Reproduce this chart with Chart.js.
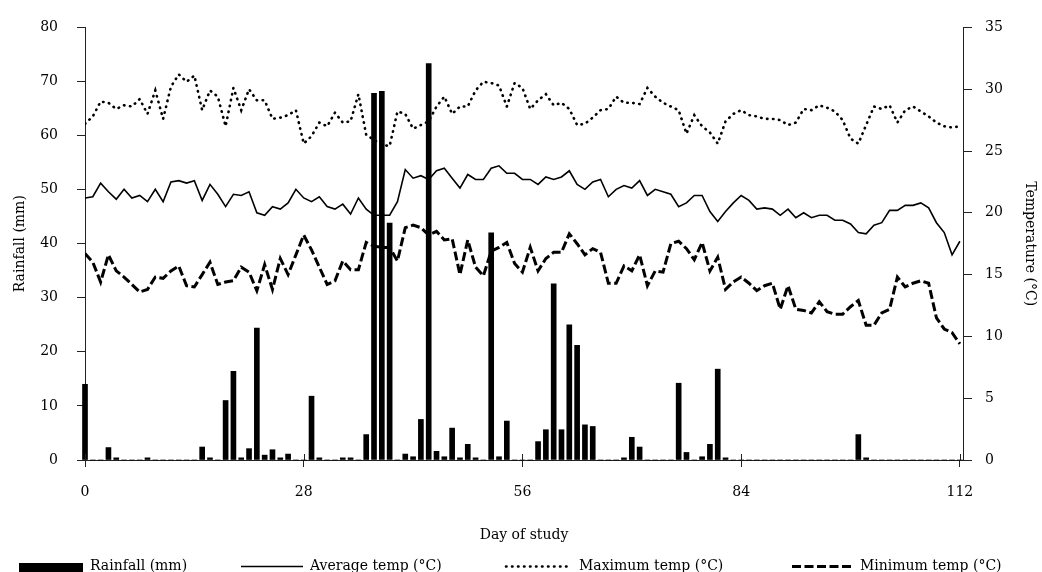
<!DOCTYPE html>
<html>
<head>
<meta charset="utf-8">
<script src="https://cdn.jsdelivr.net/npm/chart.js@4.4.0/dist/chart.umd.min.js"></script>
<style>
html,body{margin:0;padding:0;background:#fff}
</style>
</head>
<body>
<canvas id="myChart" width="1042" height="572"></canvas>
<script>
// data, one value per day of study
const days = Array.from({length: 113}, (_, i) => i)
const xTicks = [0, 28, 56, 84, 112]

const rainfall = [
  14, 0, 0, 2.3, 0.4, 0, 0, 0, 0.4, 0,
  0, 0, 0, 0, 0, 2.4, 0.4, 0, 11, 16.4,
  0.4, 2.1, 24.4, 0.9, 1.9, 0.4, 1.1, 0, 0, 11.8,
  0.4, 0, 0, 0.4, 0.4, 0, 4.7, 67.8, 68.2, 43.8,
  0, 1.1, 0.6, 7.5, 73.3, 1.6, 0.6, 5.9, 0.4, 2.9,
  0.4, 0, 42, 0.6, 7.2, 0, 0, 0, 3.4, 5.6,
  32.6, 5.6, 25, 21.2, 6.5, 6.2, 0, 0, 0, 0.4,
  4.2, 2.4, 0, 0, 0, 0, 14.2, 1.4, 0, 0.6,
  2.9, 16.8, 0.4, 0, 0, 0, 0, 0, 0, 0,
  0, 0, 0, 0, 0, 0, 0, 0, 0, 4.7,
  0.4, 0, 0, 0, 0, 0, 0, 0, 0, 0,
  0, 0, 0
]
const avgTemp = [
  21.2, 21.3, 22.4, 21.7, 21.1, 21.9, 21.2, 21.4, 20.9, 21.9,
  20.9, 22.5, 22.6, 22.4, 22.6, 21.0, 22.3, 21.5, 20.5, 21.5,
  21.4, 21.7, 20.0, 19.8, 20.5, 20.3, 20.8, 21.9, 21.2, 20.9,
  21.3, 20.5, 20.3, 20.7, 19.9, 21.2, 20.3, 19.8, 19.8, 19.8,
  20.9, 23.5, 22.8, 23.0, 22.7, 23.4, 23.6, 22.8, 22.0, 23.1,
  22.7, 22.7, 23.6, 23.8, 23.2, 23.2, 22.7, 22.7, 22.3, 22.9,
  22.7, 22.9, 23.4, 22.3, 21.9, 22.5, 22.7, 21.3, 21.9, 22.2,
  22.0, 22.6, 21.4, 21.9, 21.7, 21.5, 20.5, 20.8, 21.4, 21.4,
  20.1, 19.3, 20.1, 20.8, 21.4, 21.0, 20.3, 20.4, 20.3, 19.8,
  20.3, 19.6, 20.0, 19.6, 19.8, 19.8, 19.4, 19.4, 19.1, 18.4,
  18.3, 19.0, 19.2, 20.2, 20.2, 20.6, 20.6, 20.8, 20.4, 19.2,
  18.4, 16.6, 17.7
]
const maxTemp = [
  27.2, 27.8, 29.0, 28.9, 28.4, 28.7, 28.6, 29.2, 28.0, 29.9,
  27.6, 30.2, 31.2, 30.6, 31.1, 28.3, 29.9, 29.4, 27.0, 30.1,
  28.3, 30.0, 29.1, 29.1, 27.6, 27.7, 27.9, 28.3, 25.6, 26.2,
  27.3, 27.0, 28.1, 27.3, 27.4, 29.6, 26.3, 25.9, 25.5, 25.4,
  28.2, 28.0, 26.8, 27.1, 27.4, 28.6, 29.4, 28.0, 28.6, 28.6,
  29.9, 30.6, 30.5, 30.3, 28.6, 30.5, 30.1, 28.4, 29.1, 29.6,
  28.7, 28.9, 28.4, 27.1, 27.2, 27.7, 28.3, 28.4, 29.4, 28.9,
  28.9, 28.8, 30.1, 29.4, 28.9, 28.6, 28.3, 26.4, 27.9, 27.0,
  26.5, 25.6, 27.4, 28.0, 28.3, 27.9, 27.8, 27.6, 27.6, 27.5,
  27.1, 27.3, 28.4, 28.3, 28.7, 28.5, 28.2, 27.5, 26.0, 25.6,
  27.1, 28.6, 28.4, 28.7, 27.3, 28.3, 28.6, 28.2, 27.8, 27.3,
  27.0, 26.9, 27.0
]
const minTemp = [
  16.7, 16.0, 14.4, 16.6, 15.3, 14.8, 14.2, 13.6, 13.8, 14.8,
  14.7, 15.3, 15.7, 14.1, 14.0, 15.0, 16.0, 14.2, 14.4, 14.5,
  15.6, 15.2, 13.7, 15.8, 13.8, 16.3, 15.0, 16.6, 18.2, 17.0,
  15.6, 14.2, 14.5, 16.1, 15.4, 15.4, 17.6, 17.3, 17.2, 17.2,
  16.1, 18.8, 19.0, 18.8, 18.2, 18.5, 17.8, 17.9, 15.0, 17.8,
  15.6, 14.9, 16.9, 17.2, 17.6, 15.9, 15.2, 17.2, 15.3, 16.3,
  16.8, 16.8, 18.3, 17.5, 16.6, 17.1, 16.8, 14.3, 14.3, 15.7,
  15.3, 16.6, 14.1, 15.3, 15.2, 17.5, 17.7, 17.1, 16.2, 17.6,
  15.3, 16.4, 13.8, 14.4, 14.8, 14.3, 13.7, 14.1, 14.3, 12.2,
  14.1, 12.2, 12.1, 11.9, 12.8, 12.0, 11.8, 11.8, 12.4, 12.9,
  10.9, 10.9, 11.9, 12.2, 14.8, 14.0, 14.3, 14.5, 14.3, 11.5,
  10.6, 10.3, 9.4
]

const pts = arr => arr.map((v, i) => ({x: days[i], y: v}))

Chart.defaults.font.family = '"DejaVu Serif", serif'
Chart.defaults.font.size = 14
Chart.defaults.color = '#000'

// legend drawn by hand so the items can spread across the bottom
const bottomLegend = {
  id: 'bottomLegend',
  afterDraw(chart) {
    const ctx = chart.ctx
    const starts = [19, 241, 506, 792]
    const widths = [64, 62, 66, 61]
    const lineY = 566.5
    ctx.save()
    ctx.font = '14px "DejaVu Serif"'
    ctx.fillStyle = '#000'
    ctx.strokeStyle = '#000'
    chart.data.datasets.forEach((ds, i) => {
      const x = starts[i], w = widths[i]
      if (ds.type === 'bar') {
        ctx.fillRect(x, 563, w, 13)
      } else {
        ctx.beginPath()
        ctx.lineWidth = ds.borderWidth
        ctx.lineCap = ds.borderCapStyle || 'butt'
        ctx.setLineDash(ds.borderDash || [])
        ctx.moveTo(x, lineY)
        ctx.lineTo(x + w, lineY)
        ctx.stroke()
        ctx.setLineDash([])
      }
      ctx.textBaseline = 'alphabetic'
      ctx.fillText(ds.label, x + w + 7, 570)
    })
    ctx.restore()
  }
}

// x ticks cross the axis line
const crossTicks = {
  id: 'crossTicks',
  afterDatasetsDraw(chart) {
    const {ctx, scales: {x}, chartArea} = chart
    ctx.save()
    ctx.strokeStyle = '#222'
    ctx.lineWidth = 1
    x.ticks.forEach(t => {
      const px = Math.round(x.getPixelForValue(t.value)) + 0.5
      ctx.beginPath()
      ctx.moveTo(px, chartArea.bottom - 6)
      ctx.lineTo(px, chartArea.bottom)
      ctx.stroke()
    })
    ctx.restore()
  }
}

const ctx = document.getElementById('myChart').getContext('2d')

const config = {
  type: 'bar',
  data: {
    datasets: [
      {
        type: 'bar',
        label: 'Rainfall (mm)',
        data: pts(rainfall),
        backgroundColor: '#000',
        barThickness: 5,
        yAxisID: 'y',
        clip: false,
        order: 0
      },
      {
        type: 'line',
        label: 'Average temp (°C)',
        data: pts(avgTemp),
        borderColor: '#000',
        borderWidth: 1.6,
        pointRadius: 0,
        tension: 0,
        yAxisID: 'y1',
        order: 1
      },
      {
        type: 'line',
        label: 'Maximum temp (°C)',
        data: pts(maxTemp),
        borderColor: '#000',
        borderWidth: 2.6,
        borderDash: [0.5, 5.5],
        borderCapStyle: 'round',
        pointRadius: 0,
        tension: 0,
        yAxisID: 'y1',
        order: 1
      },
      {
        type: 'line',
        label: 'Minimum temp (°C)',
        data: pts(minTemp),
        borderColor: '#000',
        borderWidth: 3,
        borderDash: [9, 3.5],
        pointRadius: 0,
        tension: 0,
        yAxisID: 'y1',
        order: 1
      }
    ]
  },
  options: {
    responsive: false,
    devicePixelRatio: 1,
    animation: false,
    layout: {padding: {top: 20, left: 0, right: 0, bottom: 28}},
    plugins: {
      legend: {display: false},
      tooltip: {enabled: false}
    },
    scales: {
      x: {
        type: 'linear',
        min: 0,
        max: 112.4,
        offset: false,
        afterBuildTicks: s => { s.ticks = xTicks.map(v => ({value: v})) },
        afterFit: s => { s.height = 84 },
        grid: {drawOnChartArea: false, offset: false, tickLength: 7, color: '#222'},
        border: {color: '#222'},
        ticks: {padding: 17, maxRotation: 0},
        title: {display: true, text: 'Day of study', padding: {top: 0, bottom: 0}}
      },
      y: {
        position: 'left',
        min: 0,
        max: 80,
        afterFit: s => { s.width = 85 },
        grid: {drawOnChartArea: false, tickLength: 8, color: '#222'},
        border: {color: '#222'},
        ticks: {stepSize: 10, padding: 19},
        title: {display: true, text: 'Rainfall (mm)', padding: {top: 12, bottom: 0}}
      },
      y1: {
        position: 'right',
        min: 0,
        max: 35,
        afterFit: s => { s.width = 79 },
        grid: {drawOnChartArea: false, tickLength: 9, color: '#222'},
        border: {color: '#222'},
        ticks: {stepSize: 5, padding: 13},
        title: {display: true, text: 'Temperature (°C)', padding: {top: 4, bottom: 0}}
      }
    }
  },
  plugins: [bottomLegend, crossTicks]
}

const myChart = new Chart(ctx, config)
</script>
</body>
</html>
